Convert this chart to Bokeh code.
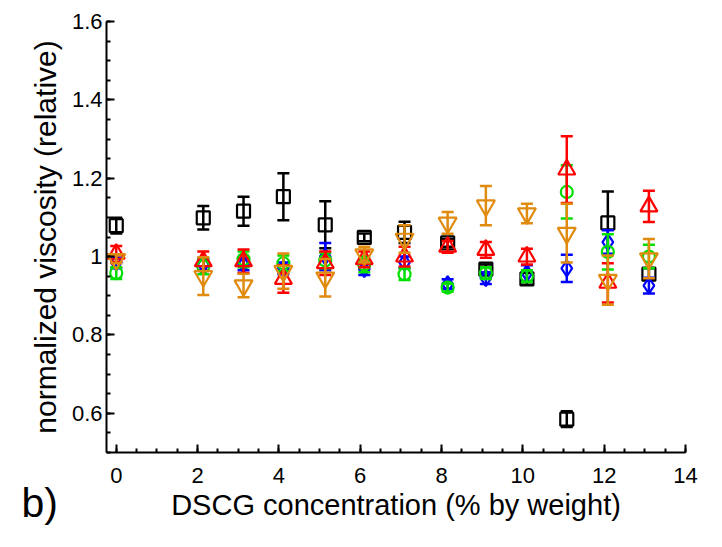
from bokeh.plotting import figure
from bokeh.models import Range1d, FixedTicker, Title
from bokeh.embed import file_html
from bokeh.resources import INLINE

conc = [0.0, 2.14, 3.13, 4.11, 5.14, 6.1, 7.09, 8.15, 9.09, 10.1, 11.08, 12.09, 13.1]

black_v = [1.079, 1.099, 1.116, 1.153, 1.081, 1.049, 1.062, 1.035, 0.968, 0.943, 0.585, 1.086, 0.955]
black_e = [0.020, 0.030, 0.037, 0.060, 0.060, 0.010, 0.027, 0.010, 0.012, 0.015, 0.020, 0.080, 0.015]

blue_v = [0.985, 0.980, 0.980, 0.970, 1.000, 0.968, 0.985, 0.930, 0.945, 0.958, 0.970, 1.037, 0.926]
blue_e = [0.015, 0.015, 0.015, 0.015, 0.035, 0.015, 0.015, 0.012, 0.015, 0.020, 0.035, 0.030, 0.020]

green_v = [0.958, 0.975, 0.993, 0.983, 0.990, 0.980, 0.955, 0.921, 0.958, 0.950, 1.165, 1.012, 1.000]
green_e = [0.015, 0.020, 0.020, 0.020, 0.020, 0.020, 0.015, 0.010, 0.015, 0.015, 0.068, 0.045, 0.030]

red_v = [1.007, 0.988, 0.988, 0.943, 0.983, 0.993, 1.000, 1.025, 1.017, 1.000, 1.222, 0.933, 1.128]
red_e = [0.020, 0.025, 0.030, 0.035, 0.030, 0.020, 0.025, 0.015, 0.020, 0.020, 0.085, 0.050, 0.040]

orange_v = [0.993, 0.950, 0.926, 0.963, 0.946, 1.005, 1.045, 1.086, 1.130, 1.110, 1.060, 0.940, 0.995]
orange_e = [0.010, 0.048, 0.030, 0.045, 0.048, 0.020, 0.035, 0.028, 0.050, 0.025, 0.075, 0.063, 0.050]

y_ticks = [0.6, 0.8, 1.0, 1.2, 1.4, 1.6]
y_tick_labels = ["0.6", "0.8", "1", "1.2", "1.4", "1.6"]
x_ticks = [0, 2, 4, 6, 8, 10, 12, 14]

FONT = "Liberation Sans"

p = figure(width=706, height=531, output_backend="svg", toolbar_location=None,
           x_range=Range1d(-0.24, 14.0), y_range=Range1d(0.5, 1.6),
           min_border_left=106, min_border_right=21, min_border_top=21, min_border_bottom=79)
p.outline_line_color = None
p.grid.visible = False
p.background_fill_color = "white"
p.border_fill_color = "white"

series = [
    (black_v, black_e, "black", "square", 13),
    (blue_v, blue_e, "#0000ff", "diamond", 16),
    (green_v, green_e, "#00e000", "circle", 12),
    (red_v, red_e, "#ff0000", "triangle", 17),
    (orange_v, orange_e, "#e08a0e", "inverted_triangle", 18),
]

for vals, errs, col, mk, sz in series:
    lo = [v - e for v, e in zip(vals, errs)]
    hi = [v + e for v, e in zip(vals, errs)]
    p.segment(x0=conc, y0=lo, x1=conc, y1=hi, line_color=col, line_width=2.5)
    p.scatter(x=conc, y=lo, marker="dash", size=12, line_color=col, line_width=2.5)
    p.scatter(x=conc, y=hi, marker="dash", size=12, line_color=col, line_width=2.5)
    p.scatter(x=conc, y=vals, marker=mk, size=sz, line_color=col, fill_color="white",
              fill_alpha=0.0, line_width=2.2)

for ax in (p.xaxis, p.yaxis):
    ax.axis_line_width = 2
    ax.axis_line_color = "black"
    ax.major_tick_in = 8
    ax.major_tick_out = 0
    ax.minor_tick_in = 4
    ax.minor_tick_out = 0
    ax.major_tick_line_width = 2
    ax.minor_tick_line_width = 2
    ax.major_label_text_font = FONT
    ax.major_label_text_font_size = "22px"
    ax.major_label_text_color = "black"
    ax.axis_label_text_font = FONT
    ax.axis_label_text_font_style = "normal"
    ax.axis_label_text_color = "black"

p.xaxis.axis_label_text_font_size = "29px"
p.yaxis.axis_label_text_font_size = "30px"

p.yaxis.ticker = FixedTicker(ticks=y_ticks,
                             minor_ticks=[round(0.5 + 0.05 * i, 2) for i in range(23)])
p.yaxis.major_label_overrides = {t: l for t, l in zip(y_ticks, y_tick_labels)}
p.xaxis.ticker = FixedTicker(ticks=x_ticks, minor_ticks=[0.5 * i for i in range(29)])
p.yaxis.axis_label = "normalized viscosity (relative)"
p.xaxis.axis_label = "DSCG concentration (% by weight)"
p.yaxis.major_label_standoff = 4
p.xaxis.major_label_standoff = 15
p.xaxis.axis_label_standoff = 3
p.yaxis.axis_label_standoff = 7

panel_tag = Title(text="b)", align="left", vertical_align="top", offset=-85, standoff=-88,
                  text_font=FONT, text_font_size="41px", text_font_style="normal",
                  text_color="black")
p.add_layout(panel_tag, "below")

open("out.html", "w").write(file_html(p, INLINE))
